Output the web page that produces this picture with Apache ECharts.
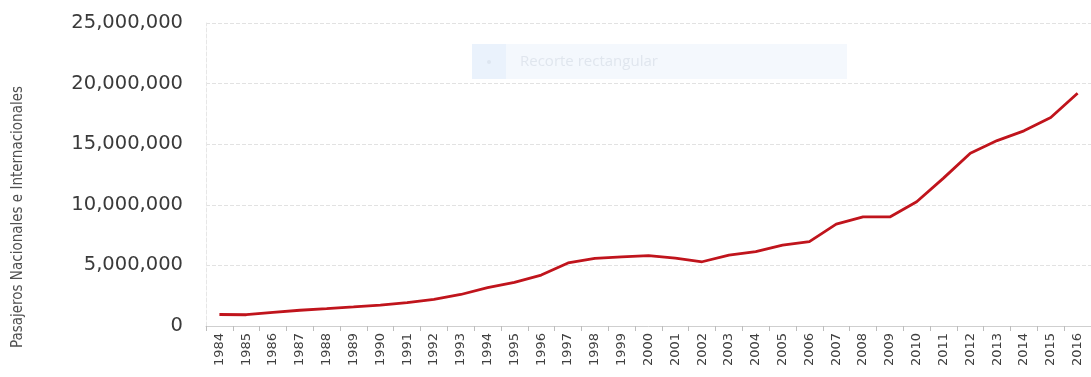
<!DOCTYPE html>
<html>
<head>
<meta charset="utf-8">
<script src="https://cdn.jsdelivr.net/npm/echarts@6/dist/echarts.min.js"></script>
<style>
  html, body { margin: 0; padding: 0; background: #fff; }
  #chart { width: 1091px; height: 377px; }
</style>
</head>
<body>
<div id="chart"></div>
<script>
// Years on the category axis
const years = ['1984','1985','1986','1987','1988','1989','1990','1991','1992','1993',
  '1994','1995','1996','1997','1998','1999','2000','2001','2002','2003','2004','2005',
  '2006','2007','2008','2009','2010','2011','2012','2013','2014','2015','2016'];

// Domestic + international passengers per year
const passengers = [950000, 930000, 1120000, 1300000, 1430000, 1570000, 1730000, 1920000,
  2200000, 2600000, 3160000, 3600000, 4200000, 5200000, 5580000, 5700000, 5800000,
  5600000, 5300000, 5850000, 6130000, 6680000, 6960000, 8400000, 9000000, 9000000,
  10250000, 12200000, 14250000, 15300000, 16100000, 17200000, 19200000];

const yTicks = { min: 0, max: 25000000, interval: 5000000 };
const axisTitle = 'Pasajeros Nacionales e Internacionales';

const chart = echarts.init(document.getElementById('chart'));
chart.setOption({
  animation: false,
  backgroundColor: '#ffffff',
  grid: { left: 206, right: 0, top: 23, bottom: 51, containLabel: false },
  xAxis: {
    type: 'category',
    data: years,
    boundaryGap: true,
    axisLine: { lineStyle: { color: '#cfcfcf', width: 1 } },
    axisTick: { show: true, alignWithLabel: false, length: 5, lineStyle: { color: '#bdbdbd' } },
    axisLabel: {
      rotate: 90, interval: 0, margin: 7,
      fontFamily: 'DejaVu Sans', fontSize: 13, color: '#404040'
    },
    splitLine: { show: false }
  },
  yAxis: {
    type: 'value',
    min: yTicks.min, max: yTicks.max, interval: yTicks.interval,
    axisLine: { show: true, lineStyle: { color: '#e6e6e6', type: 'dashed' } },
    axisTick: { show: false },
    axisLabel: {
      margin: 23,
      fontFamily: 'DejaVu Sans', fontSize: 19.5, color: '#3a3a3a',
      formatter: v => v.toLocaleString('en-US')
    },
    splitLine: { lineStyle: { color: '#e2e2e2', type: 'dashed', width: 1 } }
  },
  series: [{
    type: 'line',
    data: passengers,
    symbol: 'none',
    lineStyle: { color: '#c0141c', width: 2.8 }
  }],
  graphic: [
    {
      type: 'text', x: 18, y: 217, rotation: Math.PI / 2,
      style: {
        text: axisTitle, fontFamily: 'DejaVu Sans Condensed', fontSize: 15,
        fill: '#505050', textAlign: 'center', textVerticalAlign: 'middle'
      }
    },
    {
      type: 'group', x: 472, y: 44, z: -1,
      children: [
        { type: 'rect', shape: { x: 0, y: 0, width: 375, height: 35 }, style: { fill: '#f4f8fd' } },
        { type: 'rect', shape: { x: 0, y: 0, width: 34, height: 35 }, style: { fill: '#eaf2fc' } },
        { type: 'circle', shape: { cx: 17, cy: 18, r: 2 }, style: { fill: '#dde6f0' } },
        {
          type: 'text', x: 48, y: 18,
          style: {
            text: 'Recorte rectangular', fontFamily: 'Open Sans', fontSize: 15,
            fill: '#e0e6ee', textVerticalAlign: 'middle'
          }
        }
      ]
    }
  ]
});
</script>
</body>
</html>
